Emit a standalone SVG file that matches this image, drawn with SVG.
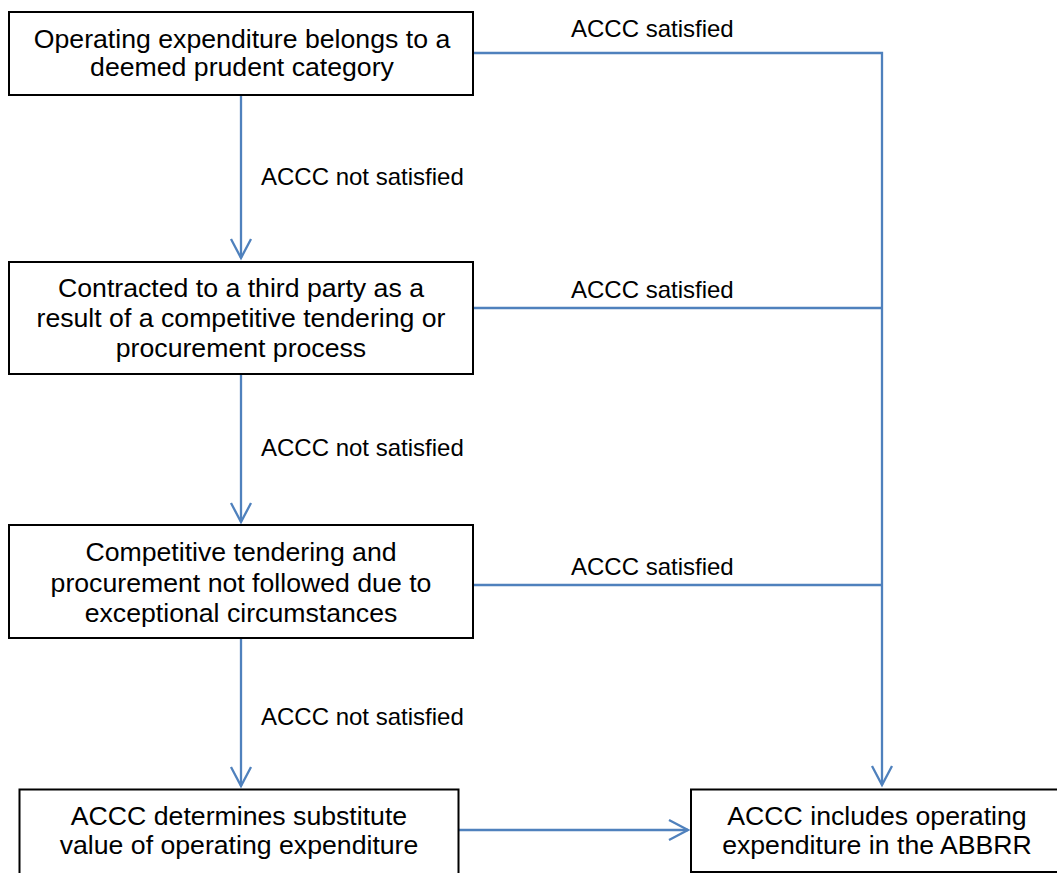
<svg xmlns="http://www.w3.org/2000/svg" width="1057" height="873" viewBox="0 0 1057 873">
<style>
.box{fill:#fff;stroke:#000;stroke-width:2}
.bt{font-family:"Liberation Sans",Arial,sans-serif;font-size:26.67px;fill:#000;text-anchor:middle}
.lb{font-family:"Liberation Sans",Arial,sans-serif;font-size:24px;fill:#000}
.c{fill:none;stroke:#4F81BD;stroke-width:2.3}
</style>
<defs>
<marker id="arr" markerUnits="userSpaceOnUse" viewBox="-22 -12 26 24" refX="0" refY="0" markerWidth="26" markerHeight="24" orient="auto" overflow="visible">
<path d="M-19,-10 L0,0 L-19,10" fill="none" stroke="#4F81BD" stroke-width="2.3"/>
</marker>
</defs>
<rect width="1057" height="873" fill="#fff"/>
<g id="connectors">
<line class="c" x1="241" y1="95" x2="241" y2="258" marker-end="url(#arr)"/>
<line class="c" x1="241" y1="374" x2="241" y2="522" marker-end="url(#arr)"/>
<line class="c" x1="241" y1="638" x2="241" y2="786" marker-end="url(#arr)"/>
<polyline class="c" points="473,53 882,53 882,785" marker-end="url(#arr)"/>
<line class="c" x1="473" y1="308" x2="882" y2="308"/>
<line class="c" x1="473" y1="585" x2="882" y2="585"/>
<line class="c" x1="459" y1="830" x2="688" y2="830" marker-end="url(#arr)"/>
<text class="lb" x="571" y="37">ACCC satisfied</text>
<text class="lb" x="571" y="298">ACCC satisfied</text>
<text class="lb" x="571" y="575">ACCC satisfied</text>
<text class="lb" x="261" y="185">ACCC not satisfied</text>
<text class="lb" x="261" y="456">ACCC not satisfied</text>
<text class="lb" x="261" y="725">ACCC not satisfied</text>
</g>
<g id="n1">
<rect class="box" x="9" y="12" width="464" height="83"/>
<text class="bt" x="242" y="47.5">Operating expenditure belongs to a</text>
<text class="bt" x="242" y="76">deemed prudent category</text>
</g>
<g id="n2">
<rect class="box" x="9" y="262" width="464" height="112"/>
<text class="bt" x="241" y="297">Contracted to a third party as a</text>
<text class="bt" x="241" y="327">result of a competitive tendering or</text>
<text class="bt" x="241" y="357">procurement process</text>
</g>
<g id="n3">
<rect class="box" x="9" y="525" width="464" height="113"/>
<text class="bt" x="241" y="561">Competitive tendering and</text>
<text class="bt" x="241" y="591.5">procurement not followed due to</text>
<text class="bt" x="241" y="621.5">exceptional circumstances</text>
</g>
<g id="n4">
<rect class="box" x="19.5" y="789.5" width="439" height="90"/>
<text class="bt" x="239" y="825">ACCC determines substitute</text>
<text class="bt" x="239" y="853.5">value of operating expenditure</text>
</g>
<g id="n5">
<rect class="box" x="691" y="789.5" width="372" height="82.5"/>
<text class="bt" x="877" y="825">ACCC includes operating</text>
<text class="bt" x="877" y="853.5">expenditure in the ABBRR</text>
</g>
</svg>
